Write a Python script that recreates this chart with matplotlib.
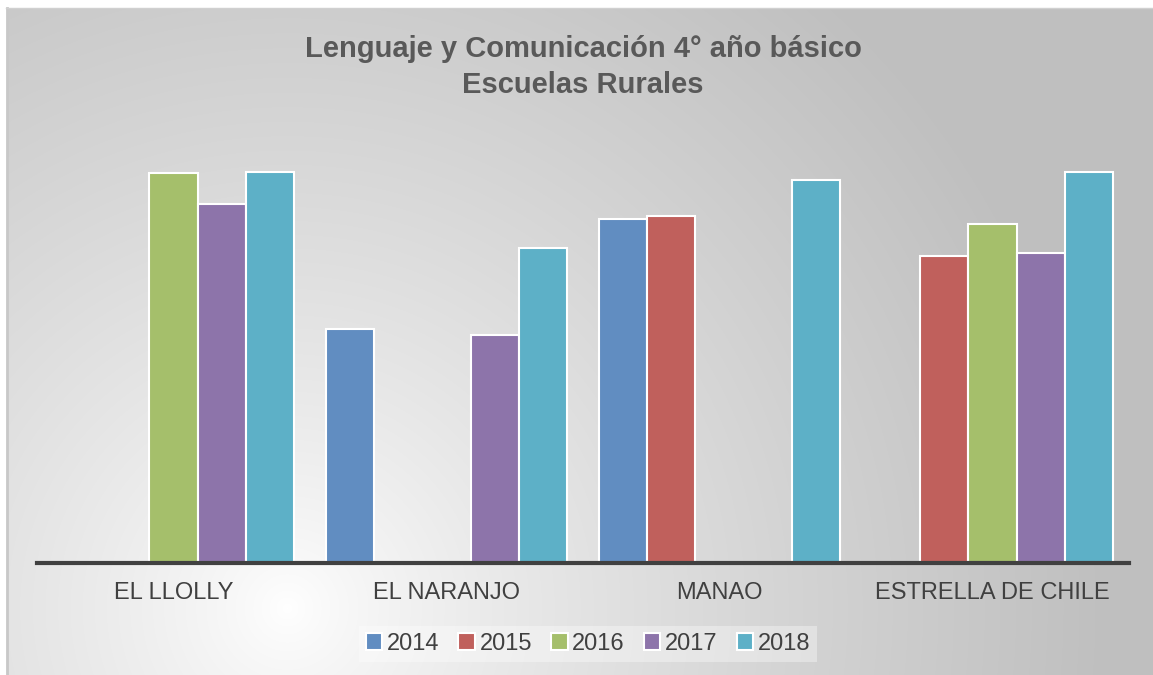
import matplotlib.pyplot as plt
import numpy as np

# Datos del gráfico (valores estimados desde la imagen)
escuelas = ["EL LLOLLY", "EL NARANJO", "MANAO", "ESTRELLA DE CHILE"]
anios = ["2014", "2015", "2016", "2017", "2018"]
v2014 = [None, 175, 258, None]
v2015 = [None, None, 260, 230]
v2016 = [292, None, None, 254]
v2017 = [269, 171, None, 232]
v2018 = [293, 236, 287, 293]
series = [v2014, v2015, v2016, v2017, v2018]
colores = ["#618DC1", "#C0605C", "#A5BF6B", "#8D74AA", "#5DB0C7"]

plt.rcParams['font.family'] = ['Liberation Sans', 'DejaVu Sans']

fig = plt.figure(figsize=(11.53, 6.75), dpi=100)
fig.patch.set_facecolor('white')

# Fondo con degradado radial
bg = fig.add_axes([7 / 1153, 0, 1 - 7 / 1153, 1 - 8 / 675])
w, h = 1146, 667
yy, xx = np.mgrid[0:h, 0:w]
dist = np.sqrt((xx - 280) ** 2 + (yy - 600) ** 2)
t = np.clip(dist / 820, 0, 1) ** 0.8
gris = 1 - t * (1 - 0.75)
bg.imshow(np.dstack([gris, gris, gris]), aspect='auto', extent=[0, 1, 0, 1], origin='upper')
bg.set_xlim(0, 1)
bg.set_ylim(0, 1)
bg.axis('off')

# Bordes del marco
fig.add_artist(plt.Line2D([6.5 / 1153, 6.5 / 1153], [0, 1 - 8 / 675], color='#c8c8c8', lw=2))
fig.add_artist(plt.Line2D([6 / 1153, 1], [1 - 8 / 675, 1 - 8 / 675], color='#d0d0d0', lw=1))

ax = fig.add_axes([37 / 1153, 1 - 563 / 675, (1129 - 37) / 1153, (563 - 140) / 675])
ax.patch.set_alpha(0)

x = np.arange(len(escuelas))
ancho = 0.176
for i, (vals, anio, col) in enumerate(zip(series, anios, colores)):
    pos = x + (i - 2) * ancho
    xs = [p for p, v in zip(pos, vals) if v is not None]
    hs = [v for v in vals if v is not None]
    ax.bar(xs, hs, width=ancho, color=col, edgecolor='white', linewidth=1.5, label=anio, zorder=2)

ax.set_xlim(-0.5, len(escuelas) - 0.5)
ax.set_ylim(0, 317)
ax.set_yticks([])
ax.set_xticks(x)
ax.set_xticklabels(escuelas, fontsize=17, color='#404040')
ax.tick_params(axis='x', length=0, pad=14)
for s in ['top', 'right', 'left']:
    ax.spines[s].set_visible(False)
ax.spines['bottom'].set_color('#404040')
ax.spines['bottom'].set_linewidth(3)
ax.spines['bottom'].set_zorder(3)

fig.text(0.5056, 1 - 67 / 675, "Lenguaje y Comunicación 4° año básico\nEscuelas Rurales",
         ha='center', va='center', fontsize=21, fontweight='bold', color='#595959',
         linespacing=1.32)

leg = fig.legend(loc='center', bbox_to_anchor=(588 / 1153, 1 - 644 / 675), ncol=5,
                 fontsize=17, frameon=True, fancybox=False, handlelength=0.7, handleheight=0.7,
                 handletextpad=0.2, columnspacing=0.8, borderpad=0.3)
leg.get_frame().set_facecolor('#ffffff')
leg.get_frame().set_alpha(0.35)
leg.get_frame().set_linewidth(0)
for txt in leg.get_texts():
    txt.set_color('#404040')

fig.savefig('out.png', dpi=100)
